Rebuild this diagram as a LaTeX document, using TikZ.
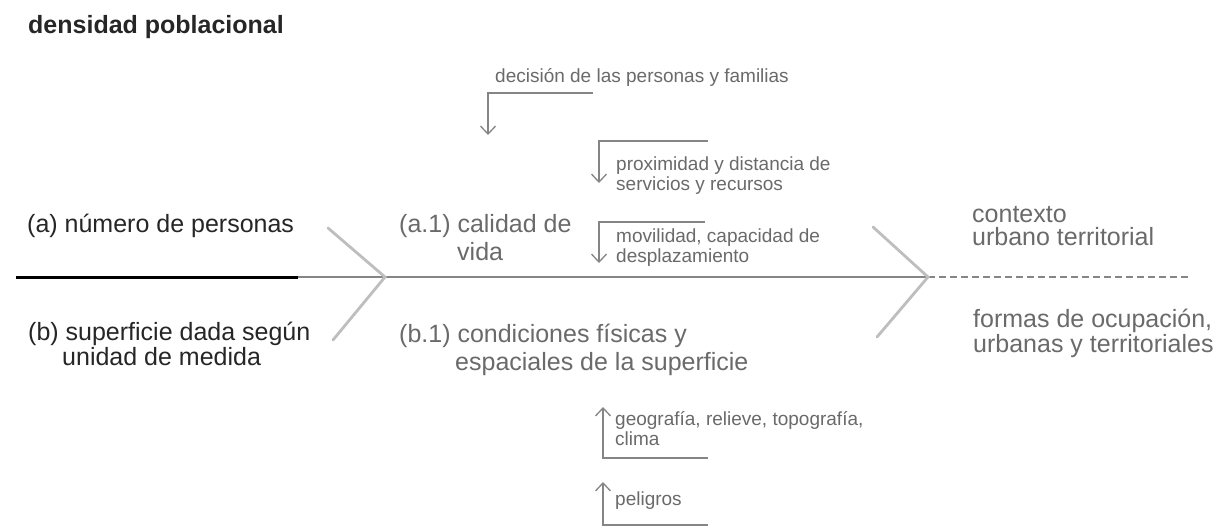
\documentclass[tikz,border=0pt]{standalone}
\usepackage{fontspec}
\setmainfont{Liberation Sans}
\usetikzlibrary{arrows.meta}
\definecolor{darktxt}{HTML}{262626}
\definecolor{graytxt}{HTML}{6A6A6A}
\definecolor{linegray}{HTML}{858585}
\definecolor{chevgray}{HTML}{BEBEBE}
\begin{document}
\begin{tikzpicture}[x=1pt,y=-1pt,
  every node/.style={inner sep=0pt,anchor=base west},
  maintxt/.style={font=\fontsize{25}{28}\selectfont,text=darktxt},
  softtxt/.style={font=\fontsize{25}{28}\selectfont,text=graytxt},
  smalltxt/.style={font=\fontsize{19}{21}\selectfont,text=graytxt},
  titletxt/.style={font=\fontsize{25}{28}\selectfont\bfseries,text=darktxt},
  arr/.style={draw=linegray,line width=1.3pt,-{Straight Barb[length=8pt,width=15pt]}},
  chev/.style={draw=chevgray,line width=2.8pt,line cap=round},
  axisblack/.style={draw=black,line width=3pt},
  axisgray/.style={draw=linegray,line width=1.8pt},
  axisdash/.style={draw=linegray,line width=1.5pt,dash pattern=on 7pt off 4pt}]
\useasboundingbox (0,0) rectangle (1217,528);
\fill[white] (0,0) rectangle (1217,528);

% title
\node[titletxt] (title) at (28,33) {densidad poblacional};

% main axis
\coordinate (L0) at (16,277);
\coordinate (L1) at (298,277);
\coordinate (Ltip) at (385,277);
\coordinate (Rtip) at (928,277);
\coordinate (Lend) at (1190,277);
\draw[axisblack] (L0) -- (L1);
\draw[axisgray] (L1) -- (Rtip);
\draw[axisdash] (Rtip) -- (Lend);

% chevrons
\coordinate (Lu) at (328,228);
\coordinate (Ld) at (333,340);
\coordinate (Ru) at (873,227);
\coordinate (Rd) at (877,337);
\draw[chev] (Lu) -- (Ltip) -- (Ld);
\draw[chev] (Ru) -- (Rtip) -- (Rd);

% left labels
\node[maintxt] (a) at (27,232) {(a) número de personas};
\node[maintxt] (b1) at (28,340) {(b) superficie dada según};
\node[maintxt] (b2) at (62,365) {unidad de medida};

% middle labels
\node[softtxt] (a11) at (399,232) {(a.1) calidad de};
\node[softtxt] (a12) at (457,260) {vida};
\node[softtxt] (b11) at (399,342) {(b.1) condiciones físicas y};
\node[softtxt] (b12) at (455,370) {espaciales de la superficie};

% right labels
\node[softtxt] (c1) at (972,222) {contexto};
\node[softtxt] (c2) at (972,245) {urbano territorial};
\node[softtxt] (f1) at (973,327) {formas de ocupación,};
\node[softtxt] (f2) at (973,352) {urbanas y territoriales};

% small labels
\node[smalltxt] (dec) at (495,82) {decisión de las personas y familias};
\node[smalltxt] (px1) at (616,170) {proximidad y distancia de};
\node[smalltxt] (px2) at (616,190) {servicios y recursos};
\node[smalltxt] (mv1) at (616,242) {movilidad, capacidad de};
\node[smalltxt] (mv2) at (616,262) {desplazamiento};
\node[smalltxt] (ge1) at (615,425) {geografía, relieve, topografía,};
\node[smalltxt] (ge2) at (615,445) {clima};
\node[smalltxt] (pe) at (615,505) {peligros};

% small connectors
\coordinate (decS) at (593,93);
\coordinate (decT) at (488,135);
\coordinate (pxS) at (708,141);
\coordinate (pxT) at (599,183);
\coordinate (mvS) at (705,222);
\coordinate (mvT) at (599,263);
\coordinate (geS) at (708,458);
\coordinate (geT) at (603,407);
\coordinate (peS) at (708,525);
\coordinate (peT) at (603,482);
\draw[arr] (decS) -| (decT);
\draw[arr] (pxS) -| (pxT);
\draw[arr] (mvS) -| (mvT);
\draw[arr] (geS) -| (geT);
\draw[arr] (peS) -| (peT);
\end{tikzpicture}
\end{document}
